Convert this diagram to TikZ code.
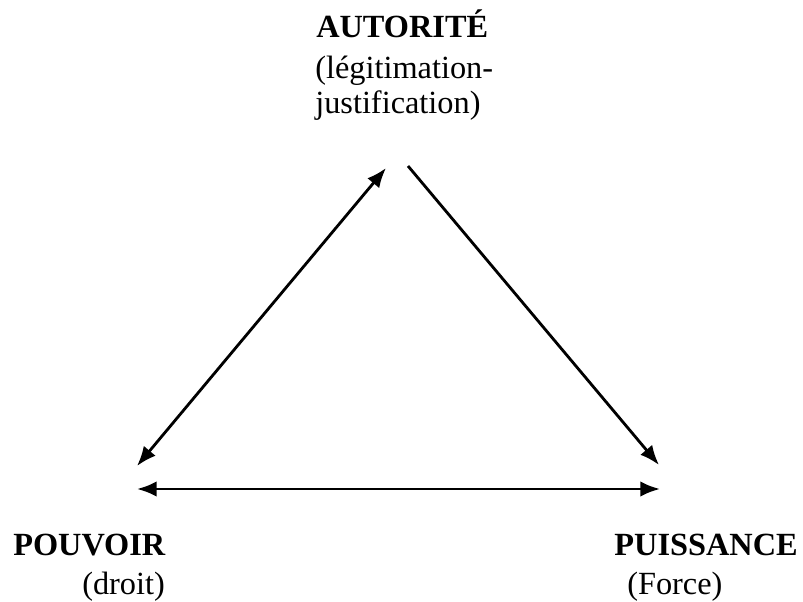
\documentclass[tikz,border=0pt]{standalone}
\usepackage{fontspec}
\setmainfont{Liberation Serif}
\usetikzlibrary{arrows.meta, positioning}

\begin{document}
\begin{tikzpicture}
        \tikzset{caption/.style={inner sep=0pt, font=\fontsize{23}{25}\selectfont},
                 title/.style={caption, font=\fontsize{23}{25}\selectfont\bfseries},
                 tip/.tip={Latex[length=14pt,width=11pt]},
                 link/.style={line width=2pt, -tip}}
        \useasboundingbox (0,0) rectangle (20.075,-15.05);
        % sommets
        \node [title, anchor=base west] (aut) at (7.9,-0.95) {AUTORIT\'E};
        \node [caption, anchor=base west, align=left] (leg) at (7.875,-2.85)
              {(l\'egitimation-\\justification)};
        \node [title, anchor=base west] (pouv) at (0.325,-13.875) {POUVOIR};
        \node [caption, anchor=base west] (droit) at (2.05,-14.85) {(droit)};
        \node [title, anchor=base east] (puis) at (19.95,-13.875) {PUISSANCE};
        \node [caption, anchor=base west] (force) at (15.675,-14.85) {(Force)};
        % bouts des fleches
        \coordinate (tl) at (9.65,-4.2);
        \coordinate (bl) at (3.425,-11.65);
        \coordinate (tr) at (10.2,-4.15);
        \coordinate (br) at (16.475,-11.625);
        \coordinate (hl) at (3.425,-12.225);
        \coordinate (hr) at (16.5,-12.225);
        \draw [link, tip-tip] (bl) -- (tl);
        \draw [link] (tr) -- (br);
        \draw [link, tip-tip] (hl) -- (hr);
\end{tikzpicture}
\end{document}
